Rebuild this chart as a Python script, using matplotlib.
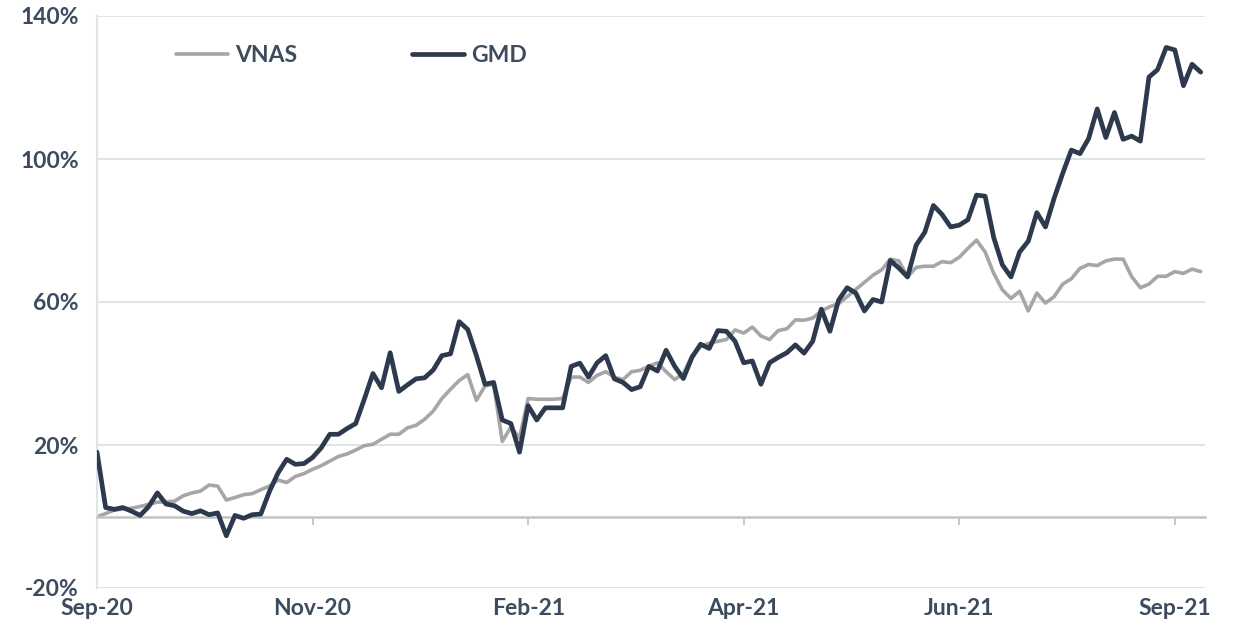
import matplotlib
matplotlib.use("Agg")
import matplotlib.pyplot as plt
import numpy as np

# ---- data (cumulative return, %, sampled every ~2 trading days) ----
vnas = [0, 0.8, 1.8, 2.1, 2.3, 2.8, 3.4, 4.0, 4.1, 4.3,
        5.8, 6.6, 7.1, 8.8, 8.5, 4.6, 5.3, 6.1, 6.4, 7.5,
        8.5, 10.2, 9.5, 11.2, 12.0, 13.2, 14.2, 15.5, 16.8, 17.5,
        18.6, 19.8, 20.2, 21.6, 23.0, 23.0, 24.8, 25.5, 27.2, 29.5,
        33.0, 35.6, 38.0, 39.7, 32.5, 36.5, 37.0, 21.0, 25.0, 22.0,
        33.0, 32.8, 32.8, 32.8, 33.0, 39.0, 39.0, 37.5, 39.5, 40.5,
        39.0, 38.3, 40.5, 40.9, 42.0, 43.0, 40.5, 38.3, 40.0, 45.0,
        47.5, 48.5, 49.0, 49.5, 52.2, 51.3, 53.0, 50.5, 49.5, 52.0,
        52.5, 55.0, 54.9, 55.5, 57.5, 58.7, 59.5, 61.5, 63.5, 65.5,
        67.5, 69.0, 72.0, 71.5, 67.0, 69.7, 70.0, 70.0, 71.3, 71.0,
        72.5, 75.0, 77.3, 74.0, 68.0, 63.4, 61.0, 63.0, 57.5, 62.5,
        59.7, 61.5, 65.0, 66.5, 69.4, 70.5, 70.2, 71.5, 72.0, 72.0,
        67.1, 64.0, 65.0, 67.2, 67.2, 68.5, 68.0, 69.2, 68.5]

gmd = [18.0, 2.5, 2.0, 2.5, 1.5, 0.3, 2.8, 6.6, 3.5, 3.0,
       1.5, 0.8, 1.6, 0.5, 1.0, -5.4, 0.3, -0.5, 0.5, 0.7,
       7.0, 12.2, 16.0, 14.6, 14.8, 16.5, 19.2, 23.0, 23.0, 24.6,
       26.0, 32.8, 40.0, 36.0, 45.8, 35.0, 36.8, 38.5, 38.8, 41.0,
       45.0, 45.5, 54.5, 52.3, 45.0, 37.0, 37.5, 27.0, 26.0, 18.0,
       31.0, 27.0, 30.4, 30.4, 30.4, 42.0, 42.9, 39.0, 43.0, 45.0,
       38.5, 37.5, 35.5, 36.3, 42.0, 40.7, 46.5, 42.0, 38.6, 44.5,
       48.2, 47.0, 52.0, 51.8, 49.0, 43.0, 43.5, 37.0, 43.0, 44.5,
       45.8, 48.0, 45.7, 49.0, 58.0, 51.8, 60.5, 64.0, 62.5, 57.5,
       60.7, 60.0, 71.6, 69.5, 67.0, 75.9, 79.5, 87.0, 84.5, 81.0,
       81.5, 83.0, 89.9, 89.6, 78.0, 70.4, 67.0, 74.0, 77.0, 85.0,
       81.0, 89.0, 96.0, 102.5, 101.5, 105.7, 114.0, 106.0, 113.0, 105.5,
       106.4, 105.0, 122.9, 125.0, 131.2, 130.5, 120.5, 126.5, 124.3]

tick_labels = ["Sep-20", "Nov-20", "Feb-21", "Apr-21", "Jun-21", "Sep-21"]
tick_step = 25
y_ticks = [-20, 20, 60, 100, 140]

# ---- style ----
TXT = "#3d4b5f"
GRID = "#dfe4eb"
ZERO = "#c3c3c3"
C_VNAS = "#a6a6a6"
C_GMD = "#2d3a4d"
plt.rcParams['font.family'] = ['Lato', 'DejaVu Sans']
FS = 16.5

x = np.arange(len(gmd))

fig = plt.figure(figsize=(12.33, 6.25), dpi=100)
ax = fig.add_axes([97/1233, 1-588/625, 1108/1233, 572/625])

for yv in y_ticks:
    ax.axhline(yv, color=GRID, lw=1.4, zorder=0)

ax.plot(x, vnas, color=C_VNAS, lw=2.6, label="VNAS", solid_joinstyle='round',
        solid_capstyle='round', zorder=2)
ax.plot(x, gmd, color=C_GMD, lw=3.4, label="GMD", solid_joinstyle='round',
        solid_capstyle='round', zorder=3)

ax.set_xlim(0, len(gmd) - 0.5)
ax.set_ylim(-20, 140)

# y axis
ax.set_yticks(y_ticks)
ax.set_yticklabels([f"{v}%" for v in y_ticks])
ax.tick_params(axis='y', length=0, pad=13, labelsize=FS, labelcolor=TXT)
for lab in ax.get_yticklabels():
    lab.set_fontweight('bold')

# spines
for s in ['top', 'right']:
    ax.spines[s].set_visible(False)
ax.spines['left'].set_color(GRID)
ax.spines['left'].set_linewidth(1.6)
ax.spines['bottom'].set_position(('data', 0))
ax.spines['bottom'].set_color(ZERO)
ax.spines['bottom'].set_linewidth(1.8)

ticks = np.arange(0, len(gmd), tick_step)[:len(tick_labels)]
ax.set_xticks(ticks)
ax.tick_params(axis='x', direction='out', length=6, width=1.3, color=ZERO, labelbottom=False)

sec = ax.secondary_xaxis('bottom')
sec.set_xticks(ticks)
sec.set_xticklabels(tick_labels)
sec.tick_params(length=0, pad=7, labelsize=FS, labelcolor=TXT)
sec.spines['bottom'].set_visible(False)
for lab in sec.get_xticklabels():
    lab.set_fontweight('bold')

leg = ax.legend(loc='center left', bbox_to_anchor=(0.0716, 0.931), ncol=2, frameon=False,
                handlelength=2.27, handletextpad=0.3, columnspacing=5.0,
                borderpad=0, borderaxespad=0,
                prop={'family': ['Lato', 'DejaVu Sans'], 'weight': 'bold', 'size': FS})
for t in leg.get_texts():
    t.set_color(TXT)

fig.savefig("out.png", dpi=100)
